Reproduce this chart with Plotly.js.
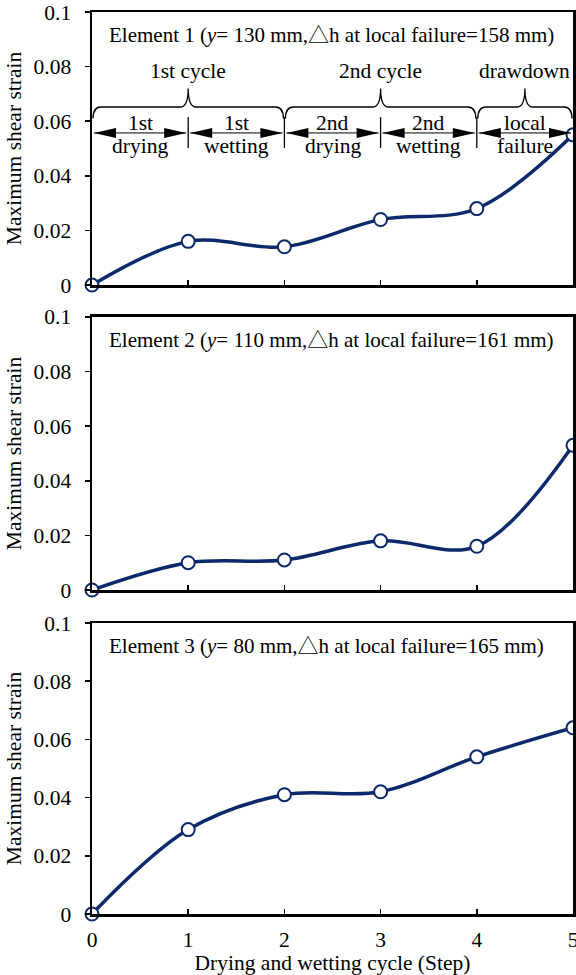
<!DOCTYPE html>
<html>
<head>
<meta charset="utf-8">
<script src="https://cdn.plot.ly/plotly-3.0.1.min.js"></script>
<style>html,body{margin:0;padding:0;background:#fff;}#chart{width:576px;height:975px;}</style>
</head>
<body>
<div id="chart"></div>
<script>
// ---- data ----
const steps = [0, 1, 2, 3, 4, 5];
const strainElement1 = [0, 0.016, 0.014, 0.024, 0.028, 0.055];
const strainElement2 = [0, 0.010, 0.011, 0.018, 0.016, 0.053];
const strainElement3 = [0, 0.029, 0.041, 0.042, 0.054, 0.064];
const xTickVals = [0, 1, 2, 3, 4, 5];
const yTickVals = [0, 0.02, 0.04, 0.06, 0.08, 0.1];
const yTickText = ['0', '0.02', '0.04', '0.06', '0.08', '0.1'];
const panelLabels = [
  'Element 1 (<i>y</i>= 130 mm,\u25B3h at local failure=158 mm)',
  'Element 2 (<i>y</i>= 110 mm,\u25B3h at local failure=161 mm)',
  'Element 3 (<i>y</i>= 80 mm,\u25B3h at local failure=165 mm)'
];
const phaseTop = ['1st', '1st', '2nd', '2nd', 'local'];
const phaseBottom = ['drying', 'wetting', 'drying', 'wetting', 'failure'];
const cycleLabels = ['1st cycle', '2nd cycle', 'drawdown'];
const cycleStart = [0, 2, 4];
const cycleEnd = [2, 4, 5];
const yTitle = 'Maximum shear strain';
const xTitle = 'Drying and wetting cycle (Step)';

// ---- style ----
const FONT = 'Liberation Serif, Times New Roman, Noto Sans CJK JP, serif';
const SERIF = 'Liberation Serif';
const FS = 21.5;
const FS_LABEL = 21;
const NAVY = '#0b2a6b';

function trace(y, xa, ya) {
  return {
    x: steps, y: y, xaxis: xa, yaxis: ya, type: 'scatter', mode: 'lines+markers',
    line: {color: NAVY, width: 3.5, shape: 'spline', smoothing: 1},
    marker: {size: 13, color: '#ffffff', line: {color: NAVY, width: 2}},
    cliponaxis: false, showlegend: false, hoverinfo: 'skip'
  };
}
const data = [
  trace(strainElement1, 'x', 'y'),
  trace(strainElement2, 'x2', 'y2'),
  trace(strainElement3, 'x3', 'y3')
];

function xax(anchor, labels) {
  const a = {
    anchor: anchor, range: [0, 5], tickvals: xTickVals, ticktext: xTickVals.map(String),
    showticklabels: labels, ticks: 'inside', ticklen: 5, tickwidth: 1.5, tickcolor: '#000',
    showline: true, linecolor: '#000', linewidth: 2.5, mirror: true,
    showgrid: false, zeroline: false, fixedrange: true, ticklabeloverflow: 'allow',
    tickfont: {family: SERIF, size: FS, color: '#000'}
  };
  if (labels) {
    a.ticklabelstandoff = 5;
    a.title = {text: xTitle, font: {family: SERIF, size: FS, color: '#000'}, standoff: 0};
  }
  return a;
}
function yax(anchor, domain) {
  return {
    anchor: anchor, domain: domain, range: [0, 0.1], tickvals: yTickVals, ticktext: yTickText,
    ticks: 'outside', ticklen: 5, tickwidth: 1.5, tickcolor: '#000',
    showline: true, linecolor: '#000', linewidth: 2.5, mirror: true,
    showgrid: false, zeroline: false, fixedrange: true,
    ticklabelstandoff: 9,
    tickfont: {family: SERIF, size: FS, color: '#000'},
    title: {text: yTitle, font: {family: SERIF, size: FS, color: '#000'}, standoff: 6}
  };
}

// ---- panel-1 schematic (braces, arrows, labels) ----
const pxX = 1 / 96.2;          // one pixel in step units
const pxY = 0.1 / 273;         // one pixel in strain units (panel 1)
const yArrow = 0.0557, ySepTop = 0.0615, ySepBot = 0.0502;
const yBraceEnd = 0.0610, yBraceFlat = 0.0652, yBraceTip = 0.0720;
const headL = 22 * pxX, headH = 5 * pxY, gap = 2 * pxX;
const shapes = [];
const annotations = [];

for (let i = 0; i < cycleLabels.length; i++) {
  const a = cycleStart[i] + pxX, b = cycleEnd[i] - pxX, m = (cycleStart[i] + cycleEnd[i]) / 2;
  const d = 8 * pxX, dc = 8 * pxX;
  const p = `M ${a},${yBraceEnd} Q ${a},${yBraceFlat} ${a + d},${yBraceFlat} L ${m - dc},${yBraceFlat} ` +
            `Q ${m},${yBraceFlat} ${m},${yBraceTip} Q ${m},${yBraceFlat} ${m + dc},${yBraceFlat} ` +
            `L ${b - d},${yBraceFlat} Q ${b},${yBraceFlat} ${b},${yBraceEnd}`;
  shapes.push({type: 'path', xref: 'x', yref: 'y', path: p, line: {color: '#000', width: 1.3}});
  annotations.push({xref: 'x', yref: 'y', x: m, y: 0.0785, text: cycleLabels[i], showarrow: false,
    font: {family: FONT, size: FS, color: '#000'}, xanchor: 'center', yanchor: 'middle'});
}
for (let i = 0; i < phaseTop.length; i++) {
  const a = steps[i], b = steps[i + 1];
  shapes.push({type: 'line', xref: 'x', yref: 'y', x0: a + gap, x1: b - gap, y0: yArrow, y1: yArrow,
    line: {color: '#000', width: 1}});
  shapes.push({type: 'path', xref: 'x', yref: 'y', fillcolor: '#000', line: {width: 0},
    path: `M ${a + gap},${yArrow} L ${a + gap + headL},${yArrow + headH} L ${a + gap + headL},${yArrow - headH} Z`});
  shapes.push({type: 'path', xref: 'x', yref: 'y', fillcolor: '#000', line: {width: 0},
    path: `M ${b - gap},${yArrow} L ${b - gap - headL},${yArrow + headH} L ${b - gap - headL},${yArrow - headH} Z`});
  if (i > 0) {
    shapes.push({type: 'line', xref: 'x', yref: 'y', x0: a, x1: a, y0: ySepBot, y1: ySepTop,
      line: {color: '#000', width: 1.3}});
  }
  annotations.push({xref: 'x', yref: 'y', x: (a + b) / 2, y: 0.0595, text: phaseTop[i], showarrow: false,
    font: {family: FONT, size: FS, color: '#000'}, xanchor: 'center', yanchor: 'middle'});
  annotations.push({xref: 'x', yref: 'y', x: (a + b) / 2, y: 0.0508, text: phaseBottom[i], showarrow: false,
    font: {family: FONT, size: FS, color: '#000'}, xanchor: 'center', yanchor: 'middle'});
}
// element labels
const labelY = [0.0915, 0.0915, 0.0921];
['', '2', '3'].forEach((s, i) => {
  annotations.push({xref: 'x' + s, yref: 'y' + s, x: 0.155, y: labelY[i], text: panelLabels[i],
    showarrow: false, xanchor: 'left', yanchor: 'middle',
    font: {family: FONT, size: FS_LABEL, color: '#000'}});
});

const layout = {
  width: 576, height: 975,
  margin: {l: 92, r: 3, t: 12, b: 61, pad: 0},
  paper_bgcolor: '#fff', plot_bgcolor: '#fff',
  font: {family: SERIF, size: FS, color: '#000'},
  showlegend: false,
  xaxis: xax('y', false),
  xaxis2: xax('y2', false),
  xaxis3: xax('y3', true),
  yaxis: yax('x', [0.6973, 1]),
  yaxis2: yax('x2', [0.3592, 0.6619]),
  yaxis3: yax('x3', [0, 0.3226]),
  shapes: shapes,
  annotations: annotations
};

Plotly.newPlot('chart', data, layout, {staticPlot: true, displayModeBar: false});
</script>
</body>
</html>
